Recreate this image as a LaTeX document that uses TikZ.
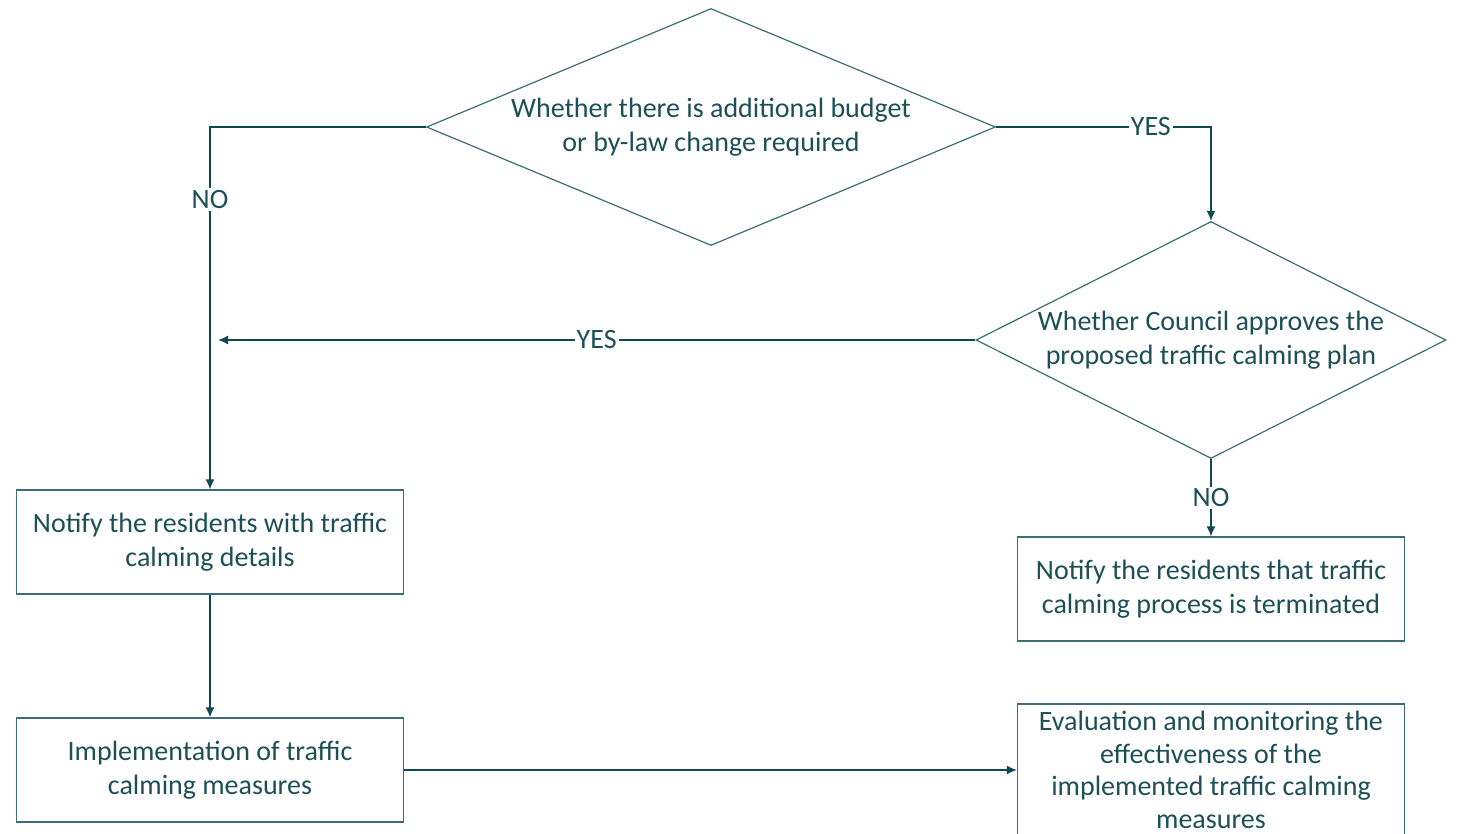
\documentclass[tikz,border=0pt]{standalone}
\usepackage{fontspec}
\setmainfont{Carlito}
\usetikzlibrary{shapes.geometric,arrows.meta}
\definecolor{flowink}{HTML}{1C4F57}
\definecolor{flowline}{HTML}{3B6E75}
\definecolor{flowarrow}{HTML}{0F4A52}

\begin{document}
\begin{tikzpicture}[
  x=0.5pt,
  y=-0.5pt,
  every node/.style={font=\fontsize{14}{17}\selectfont, text=flowink},
  decision/.style={diamond, draw=flowline, line width=0.6pt, inner sep=0pt, align=center},
  stepbox/.style={rectangle, draw=flowline, line width=0.6pt, minimum width=193.5pt,
    minimum height=52pt, inner sep=0pt, align=center},
  flow/.style={draw=flowarrow, line width=0.75pt, -{Latex[length=5pt,width=4.5pt]}},
  answer/.style={fill=white, inner sep=1pt}
]
  \useasboundingbox (0,0) rectangle (1458,834);

  % decisions
  \node[decision, aspect=2.4, minimum width=284.5pt, minimum height=118.5pt] (budget) at (711,127)
    {Whether there is additional budget\\or by-law change required};
  \node[decision, aspect=1.983, minimum width=235pt, minimum height=118.5pt] (council) at (1211,340)
    {Whether Council approves the\\proposed traffic calming plan};

  % process boxes
  \node[stepbox] (notify) at (210,542) {Notify the residents with traffic\\calming details};
  \node[stepbox] (implement) at (210,770) {Implementation of traffic\\calming measures};
  \node[stepbox] (terminate) at (1211,589) {Notify the residents that traffic\\calming process is terminated};
  \node[stepbox, minimum height=66pt, font=\fontsize{14}{16.3}\selectfont] (evaluate) at (1211,770)
    {Evaluation and monitoring the\\effectiveness of the\\implemented traffic calming\\measures};

  \coordinate (merge) at (218,340);

  % connectors
  \draw[flow] (budget.west) -| node[answer, pos=0.6] {NO} (notify.north);
  \draw[flow] (budget.east) -| node[answer, pos=0.36] {YES} (council.north);
  \draw[flow] (council.west) -- node[answer] {YES} (merge);
  \draw[flow] (council.south) -- node[answer] {NO} (terminate.north);
  \draw[flow] (notify) -- (implement);
  \draw[flow] (implement) -- (evaluate);
\end{tikzpicture}
\end{document}
